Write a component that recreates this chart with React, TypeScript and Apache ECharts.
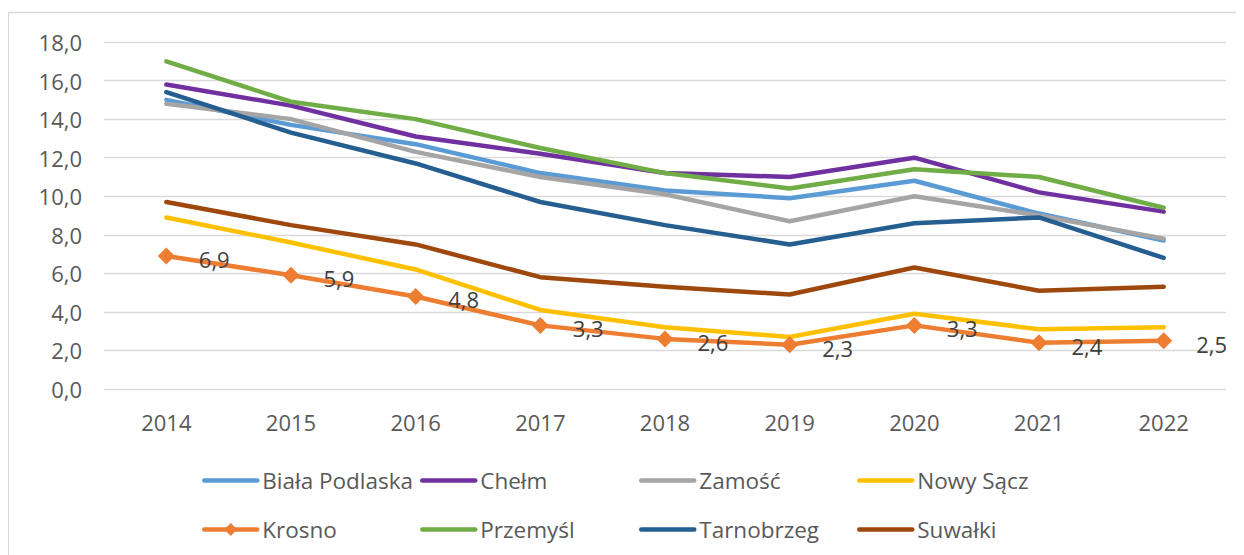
import React, { useEffect, useRef } from "react";
import * as echarts from "echarts";

const years = ["2014", "2015", "2016", "2017", "2018", "2019", "2020", "2021", "2022"];
const bialaPodlaska = [15.0, 13.7, 12.7, 11.2, 10.3, 9.9, 10.8, 9.1, 7.7];
const chelm = [15.8, 14.7, 13.1, 12.2, 11.2, 11.0, 12.0, 10.2, 9.2];
const zamosc = [14.8, 14.0, 12.3, 11.0, 10.1, 8.7, 10.0, 9.0, 7.8];
const nowySacz = [8.9, 7.6, 6.2, 4.1, 3.2, 2.7, 3.9, 3.1, 3.2];
const krosno = [6.9, 5.9, 4.8, 3.3, 2.6, 2.3, 3.3, 2.4, 2.5];
const przemysl = [17.0, 14.9, 14.0, 12.5, 11.2, 10.4, 11.4, 11.0, 9.4];
const tarnobrzeg = [15.4, 13.3, 11.7, 9.7, 8.5, 7.5, 8.6, 8.9, 6.8];
const suwalki = [9.7, 8.5, 7.5, 5.8, 5.3, 4.9, 6.3, 5.1, 5.3];

const seriesNames = [
  "Biała Podlaska",
  "Chełm",
  "Zamość",
  "Nowy Sącz",
  "Krosno",
  "Przemyśl",
  "Tarnobrzeg",
  "Suwałki",
];
const seriesData = [bialaPodlaska, chelm, zamosc, nowySacz, krosno, przemysl, tarnobrzeg, suwalki];
const seriesColors = ["#5b9bd5", "#7030a0", "#a5a5a5", "#ffc000", "#ed7d31", "#70ad47", "#255e91", "#9e480e"];

const FONT = "'Open Sans', sans-serif";
const fmt = (v: number) => v.toFixed(1).replace(".", ",");

export default function App() {
  const ref = useRef<HTMLDivElement>(null);
  useEffect(() => {
    if (!ref.current) return;
    const chart = echarts.init(ref.current, null, { renderer: "svg" });
    const legendCols = [
      { left: 194, names: [seriesNames[0], seriesNames[4]] },
      { left: 412, names: [seriesNames[1], seriesNames[5]] },
      { left: 631, names: [seriesNames[2], seriesNames[6]] },
      { left: 849, names: [seriesNames[3], seriesNames[7]] },
    ];
    chart.setOption({
      animation: false,
      graphic: [
        {
          type: "rect",
          shape: { x: 0.5, y: 4.5, width: 1400, height: 700 },
          style: { fill: "none", stroke: "#d9d9d9", lineWidth: 1.3 },
          silent: true,
        },
      ],
      grid: { left: 96, right: 18, top: 34, bottom: 166, containLabel: false },
      legend: legendCols.map((c) => ({
        data: c.names.map((n) =>
          n === "Krosno"
            ? { name: n, lineStyle: { width: 4.5, cap: "round" } }
            : { name: n, itemStyle: { opacity: 0 }, lineStyle: { width: 4.5, cap: "round" } }
        ),
        orient: "vertical",
        left: c.left,
        top: 461,
        padding: 0,
        itemGap: 26,
        itemWidth: 53,
        itemHeight: 16,
        textStyle: { fontFamily: FONT, fontSize: 22.5, color: "#595959", lineHeight: 22 },
        selectedMode: false,
      })),
      xAxis: {
        type: "category",
        data: years,
        boundaryGap: true,
        axisLine: { show: false },
        axisTick: { show: false },
        axisLabel: { fontFamily: FONT, fontSize: 22, color: "#595959", margin: 22 },
      },
      yAxis: {
        type: "value",
        min: 0,
        max: 18,
        interval: 2,
        axisLine: { show: false },
        axisTick: { show: false },
        axisLabel: {
          fontFamily: FONT,
          fontSize: 22,
          color: "#595959",
          margin: 22,
          formatter: (v: number) => fmt(v),
        },
        splitLine: { lineStyle: { color: "#d9d9d9", width: 1.3 } },
      },
      series: seriesNames.map((name, i) => {
        const isKrosno = name === "Krosno";
        return {
          name,
          type: "line",
          data: seriesData[i],
          color: seriesColors[i],
          smooth: false,
          symbol: isKrosno ? "diamond" : "none",
          showSymbol: isKrosno,
          symbolSize: 17,
          lineStyle: { width: 4.5, color: seriesColors[i], cap: "round", join: "round" },
          itemStyle: { color: seriesColors[i] },
          z: isKrosno ? 3 : 2,
          label: isKrosno
            ? {
                show: true,
                position: "right",
                distance: 24,
                offset: [0, 3],
                fontFamily: FONT,
                fontSize: 22,
                color: "#404040",
                formatter: (p: any) => fmt(p.value),
              }
            : { show: false },
        };
      }),
    });
    return () => chart.dispose();
  }, []);
  return <div ref={ref} style={{ width: 1236, height: 547 }} />;
}
